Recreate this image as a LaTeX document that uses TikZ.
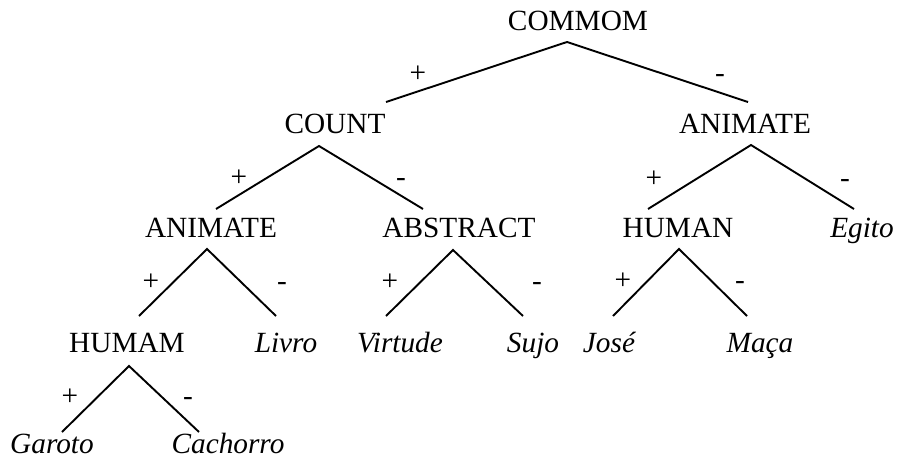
\documentclass[tikz,border=0pt]{standalone}
\usepackage{fontspec}
\setmainfont{Liberation Serif}
\begin{document}
\begin{tikzpicture}[x=1pt,y=-1pt,
  lbl/.style={anchor=base,inner sep=0pt,font=\fontsize{29.3}{35}\selectfont},
  leaf/.style={lbl,font=\fontsize{29.3}{35}\selectfont\itshape},
  sgn/.style={anchor=base,inner sep=0pt,font=\fontsize{29.3}{35}\selectfont},
  branch/.style={line width=1.9pt,line join=miter}]
\useasboundingbox (0,0) rectangle (897,458);
% nodes
\node[lbl] (commom) at (578,30) {COMMOM};
\node[lbl] (count) at (335,133) {COUNT};
\node[lbl] (animR) at (745,133) {ANIMATE};
\node[lbl] (animL) at (211,237) {ANIMATE};
\node[lbl] (abstract) at (459,237) {ABSTRACT};
\node[lbl] (human) at (678,237) {HUMAN};
\node[leaf] (egito) at (862,237) {Egito};
\node[lbl] (humam) at (127,352) {HUMAM};
\node[leaf] (livro) at (286,352) {Livro};
\node[leaf] (virtude) at (400,352) {Virtude};
\node[leaf] (sujo) at (533,352) {Sujo};
\node[leaf] (jose) at (609,352) {José};
\node[leaf] (maca) at (760,352) {Maça};
\node[leaf] (garoto) at (52,453) {Garoto};
\node[leaf] (cachorro) at (228,453) {Cachorro};
% apexes and branch ends
\coordinate (t0) at (567,42);  \coordinate (t0l) at (386,102); \coordinate (t0r) at (748,102);
\coordinate (t1) at (319,146); \coordinate (t1l) at (216,209); \coordinate (t1r) at (423,209);
\coordinate (t2) at (751,145); \coordinate (t2l) at (648,209); \coordinate (t2r) at (854,209);
\coordinate (t3) at (207,249); \coordinate (t3l) at (139,316); \coordinate (t3r) at (276,316);
\coordinate (t4) at (453,250); \coordinate (t4l) at (386,316); \coordinate (t4r) at (523,316);
\coordinate (t5) at (679,249); \coordinate (t5l) at (613,316); \coordinate (t5r) at (747,316);
\coordinate (t6) at (129,366); \coordinate (t6l) at (62,432);  \coordinate (t6r) at (199,432);
\foreach \t in {t0,t1,t2,t3,t4,t5,t6}{
  \draw[branch] (\t l) -- (\t) -- (\t r);
}
% signs
\node[sgn] (p0) at (418,82) {+};  \node[sgn] (m0) at (720,82) {-};
\node[sgn] (p1) at (239,186) {+}; \node[sgn] (m1) at (401,186) {-};
\node[sgn] (p2) at (654,187) {+}; \node[sgn] (m2) at (845,187) {-};
\node[sgn] (p3) at (151,290) {+}; \node[sgn] (m3) at (282,290) {-};
\node[sgn] (p4) at (390,290) {+}; \node[sgn] (m4) at (537,290) {-};
\node[sgn] (p5) at (623,289) {+}; \node[sgn] (m5) at (740,289) {-};
\node[sgn] (p6) at (70,405) {+};  \node[sgn] (m6) at (188,405) {-};
\end{tikzpicture}
\end{document}
